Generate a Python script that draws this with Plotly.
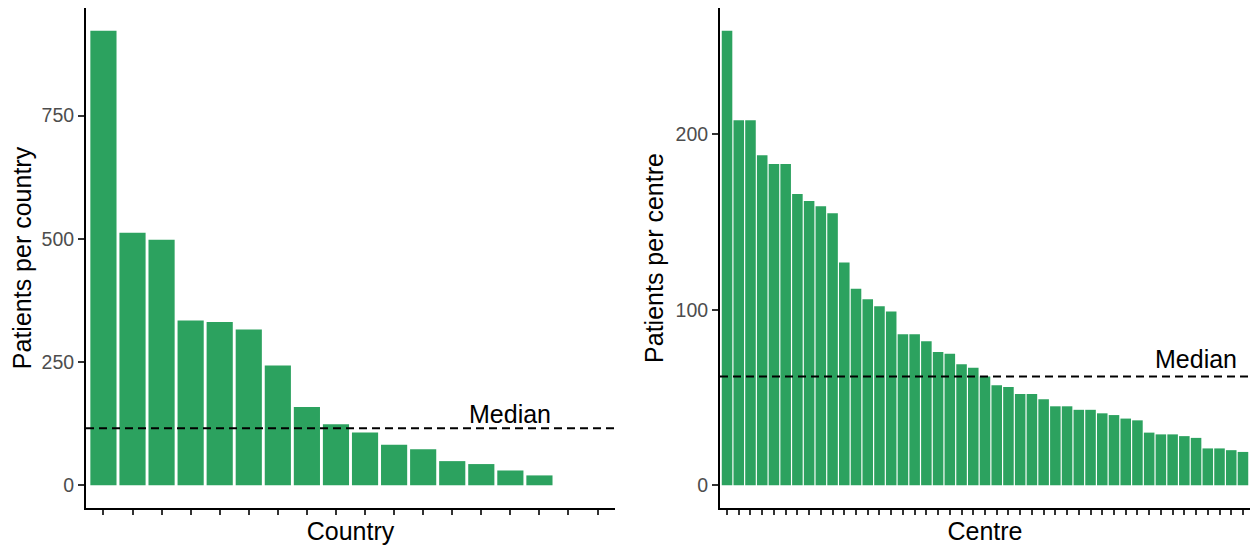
import numpy as np
import plotly.graph_objects as go

# ---- data ----
country_labels = [f"Country {i}" for i in range(1, 19)]
country_patients = [922, 512, 498, 334, 331, 316, 243, 159, 124, 107, 82, 73, 49, 43, 30, 20, 0, 0]

centre_labels = [f"Centre {i}" for i in range(1, 46)]
centre_patients = [259, 208, 208, 188, 183, 183, 166, 162, 159, 155,
                   127, 112, 106, 102, 99, 86, 86, 82, 76, 75,
                   69, 67, 62, 57, 56, 52, 52, 49, 45, 45,
                   43, 43, 41, 40, 38, 37, 30, 29, 29, 28,
                   27, 21, 21, 20, 19]

median_country = float(np.median(country_patients))
median_centre = float(np.median(centre_patients))

BAR = "#2CA25F"
FONT = "Liberation Sans, Arial, sans-serif"
OFF = 8  # page body margin
W, H = 1258 - OFF, 547 - OFF
TITLE_SIZE = 25

fig = go.Figure()
fig.add_trace(go.Bar(x=country_labels, y=country_patients, xaxis="x", yaxis="y",
                     marker=dict(color=BAR, line=dict(width=0)), width=0.9,
                     showlegend=False))
fig.add_trace(go.Bar(x=centre_labels, y=centre_patients, xaxis="x2", yaxis="y2",
                     marker=dict(color=BAR, line=dict(width=0)), width=0.9,
                     showlegend=False))


def xaxis(domain, title, n, anchor):
    return dict(domain=domain, anchor=anchor, type="category",
                range=[-0.6, n - 0.4], tickmode="linear", tick0=0, dtick=1,
                showline=True, linecolor="black", linewidth=2,
                ticks="outside", ticklen=5, tickwidth=1.5, tickcolor="#333333",
                showticklabels=False, showgrid=False, zeroline=False,
                title=dict(text=title, font=dict(size=TITLE_SIZE, color="black", family=FONT),
                           standoff=8))


def yaxis(values, title, dtick, anchor):
    mx = max(values)
    return dict(anchor=anchor, domain=[0, 1],
                range=[-0.05 * mx, 1.05 * mx], tick0=0, dtick=dtick,
                showline=True, linecolor="black", linewidth=2,
                ticks="outside", ticklen=6, tickwidth=1.5, tickcolor="#333333",
                tickfont=dict(size=19.5, color="#4D4D4D", family=FONT),
                showgrid=False, zeroline=False,
                title=dict(text=title, font=dict(size=TITLE_SIZE, color="black", family=FONT),
                           standoff=5))


fig.update_layout(
    width=W, height=H,
    margin=dict(l=0, r=0, t=0, b=39),
    paper_bgcolor="white", plot_bgcolor="white",
    font=dict(family=FONT),
    bargap=0.1,
    xaxis=xaxis([(86 - OFF) / W, (615 - OFF) / W], "Country", len(country_labels), "y"),
    yaxis=yaxis(country_patients, "Patients per country", 250, "x"),
    xaxis2=xaxis([(720 - OFF) / W, (1250 - OFF) / W], "Centre", len(centre_labels), "y2"),
    yaxis2=yaxis(centre_patients, "Patients per centre", 100, "x2"),
)

for xr, yr, med in [("x", "y", median_country), ("x2", "y2", median_centre)]:
    fig.add_shape(type="line", xref=f"{xr} domain", yref=yr, x0=0, x1=1, y0=med, y1=med,
                  line=dict(color="black", width=2, dash="8px,5px"))

fig.add_annotation(x=country_labels[14], y=median_country, xref="x", yref="y",
                   text="Median", showarrow=False, yshift=14,
                   font=dict(size=TITLE_SIZE, color="black", family=FONT))
fig.add_annotation(x=centre_labels[40], y=median_centre, xref="x2", yref="y2",
                   text="Median", showarrow=False, yshift=17,
                   font=dict(size=TITLE_SIZE, color="black", family=FONT))

fig.write_html("out.html")
